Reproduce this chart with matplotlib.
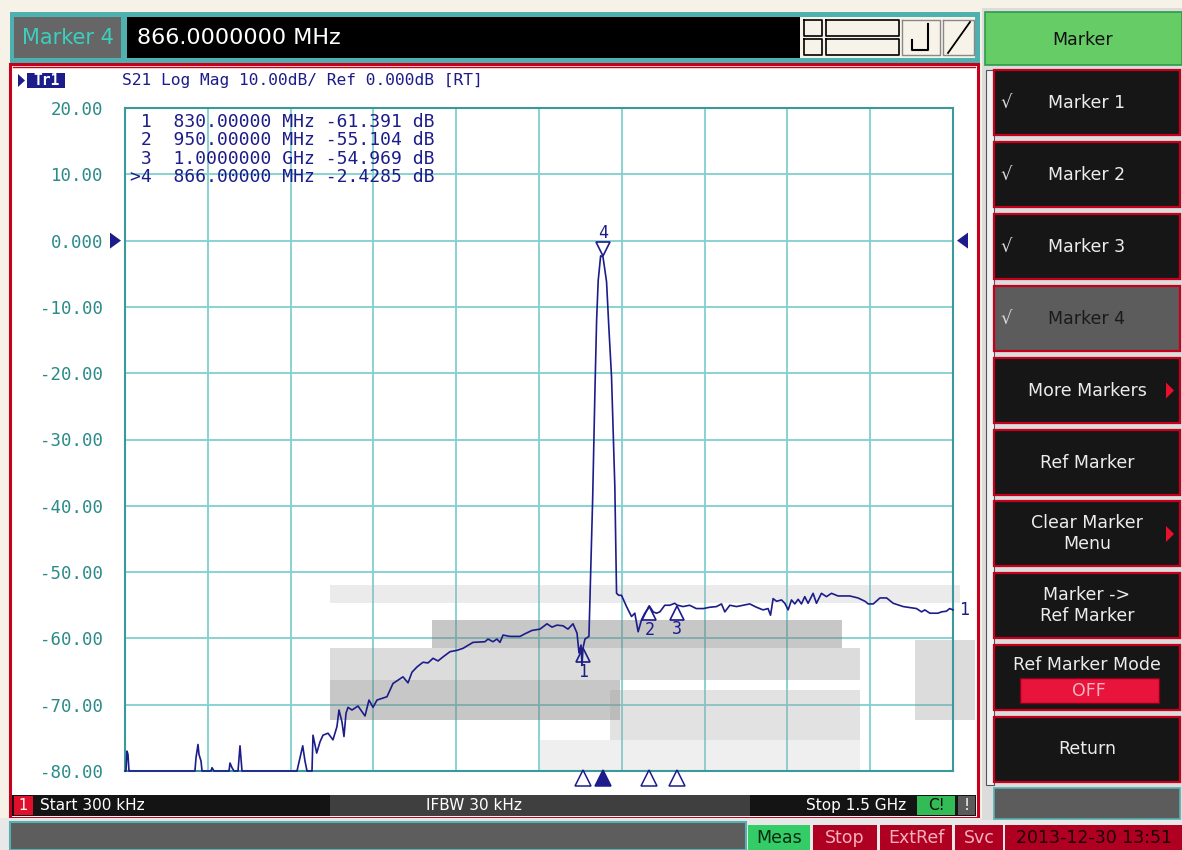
import numpy as np
import matplotlib
matplotlib.use("Agg")
import matplotlib.pyplot as plt
from matplotlib.patches import Rectangle, Polygon
from matplotlib import transforms

# ---------------- data ----------------
freq_mhz = [0.3, 2.1, 3.9, 5.7, 7.5, 127, 128.9, 132.5, 134.3, 138, 139.8, 156, 157.9, 161.5,
            188.7, 190.5, 194.1, 197.7, 205, 208.6, 212.2, 311.8, 317.3, 322.2, 326.3, 330, 339,
            340.8, 347.5, 353.5, 358.9, 368, 377, 384.2, 387.9, 393.3, 396.9, 400.6, 404.2, 411.4,
            422.3, 435, 442.2, 449.5, 456.7, 474.8, 480.3, 485.7, 494.8, 503.8, 512.9, 520.1,
            529.2, 540, 549.1, 558.2, 567.2, 576.2, 589, 601.6, 612.5, 630.6, 652.3, 657.8, 666.8,
            674, 679.5, 685, 697.6, 715.7, 724.8, 737.4, 751.9, 764.6, 773.7, 782.7, 793.6, 802.6,
            811.7, 819, 822.6, 826.2, 828, 830, 833.4, 838.8, 840.6, 843.7, 847.3, 851.5, 854.5,
            857.4, 861.8, 866, 872.5, 876.6, 881.5, 884.4, 887.5, 890.6, 894.7, 899.6, 908.7,
            917.7, 923.7, 929.7, 935.8, 941.8, 947.8, 950, 957, 963, 969, 978, 987, 996, 1000,
            1011, 1023, 1035, 1047.7, 1059.6, 1071.7, 1080.7, 1086.7, 1095.8, 1107.9, 1119.9,
            1131.9, 1144, 1156, 1165, 1169.5, 1174.2, 1180.4, 1189.4, 1195.4, 1201.4, 1207.5,
            1213.5, 1219.5, 1225.5, 1231.5, 1237.5, 1246.6, 1252.7, 1261.7, 1270.8, 1279.9,
            1291.8, 1313, 1328, 1340.6, 1346.5, 1355.6, 1367.7, 1379.8, 1391.6, 1409.8, 1434,
            1443, 1449, 1458, 1473, 1479, 1488, 1494, 1500]
s21_db = [-80, -80, -77, -77.5, -80, -80, -78, -76, -77.5, -78.5, -80, -80, -79.5, -80,
          -80, -78.8, -79.5, -80, -80, -76.2, -80, -80, -78, -76.2, -78.5, -80, -80,
          -74.6, -77.3, -75.6, -74.6, -74.3, -75.3, -73.3, -70.8, -72.6, -74.8, -71.3, -70.4, -70.8,
          -70.2, -71.7, -69.3, -70.4, -69.3, -68.8, -67.8, -66.8, -66.3, -65.8, -66.7, -65.1,
          -64.3, -63.6, -63.7, -63.0, -63.4, -62.8, -62.0, -61.8, -61.5, -60.6, -60.5, -60.1, -60.5,
          -60.1, -60.6, -59.5, -59.7, -59.7, -59.3, -58.8, -58.6, -57.8, -58.3, -58.0, -58.1, -58.6,
          -57.8, -59.2, -62.2, -61.0, -64.0, -61.4, -60.1, -59.8, -59.7, -50.4, -39.1, -22.5, -12.0,
          -6.0, -2.3, -2.43, -6.2, -13.0, -20.5, -28.3, -37.1, -53.2, -53.5, -53.5, -55.2,
          -56.7, -56.2, -59.0, -57.2, -56.2, -55.5, -55.1, -56.0, -56.2, -56.0, -55.0, -55.0, -54.7, -54.97,
          -55.2, -55.0, -55.5, -55.5, -55.3, -55.2, -54.8, -56.0, -55.0, -55.2, -55.0,
          -54.8, -55.3, -55.7, -55.5, -56.5, -54.0, -54.4, -54.2, -54.7, -55.7, -54.2,
          -54.8, -54.1, -54.8, -53.7, -54.7, -53.2, -54.7, -53.2, -53.7, -53.2,
          -53.6, -53.6, -53.9, -54.4, -54.8, -54.8, -53.9, -53.9, -54.7, -55.2, -55.5,
          -56.0, -55.7, -56.2, -56.2, -56.0, -55.9, -55.5, -55.7]

marker_ids = ["1", "2", "3", "4"]
marker_prefix = [" 1", " 2", " 3", ">4"]
marker_freq_mhz = [830.0, 950.0, 1000.0, 866.0]
marker_db = [-61.391, -55.104, -54.969, -2.4285]
marker_freq_text = ["830.00000 MHz", "950.00000 MHz", "1.0000000 GHz", "866.00000 MHz"]
marker_val_text = ["-61.391 dB", "-55.104 dB", "-54.969 dB", "-2.4285 dB"]

y_ticks = [20, 10, 0, -10, -20, -30, -40, -50, -60, -70, -80]
y_tick_labels = ["20.00", "10.00", "0.000", "-10.00", "-20.00", "-30.00", "-40.00",
                 "-50.00", "-60.00", "-70.00", "-80.00"]
start_mhz, stop_mhz = 0.3, 1500.0
ref_level_db = 0.0

title_text = "S21 Log Mag 10.00dB/ Ref 0.000dB [RT]"
entry_text = "866.0000000 MHz"
softkeys = ["Marker 1", "Marker 2", "Marker 3", "Marker 4", "More Markers", "Ref Marker",
            "Clear Marker\nMenu", "Marker ->\nRef Marker", "Ref Marker Mode", "Return"]
status_start = "Start 300 kHz"
status_ifbw = "IFBW 30 kHz"
status_stop = "Stop 1.5 GHz"
bottom_items = ["Meas", "Stop", "ExtRef", "Svc", "2013-12-30 13:51"]

# ---------------- figure ----------------
W, H = 1182, 850
fig = plt.figure(figsize=(W / 100, H / 100), dpi=100, facecolor="#f6f2e8")
ui = fig.add_axes([0, 0, 1, 1])
ui.set_xlim(0, W)
ui.set_ylim(H, 0)
ui.axis("off")
ui.set_zorder(0)

NAVY = "#1c1c8a"
TEAL_TXT = "#2b8a8a"
GRID = "#80d0d0"
MONO = "DejaVu Sans Mono"
SANS = "DejaVu Sans"


def rect(x, y, w, h, fc, ec="none", lw=0, z=1, alpha=1.0):
    ui.add_patch(Rectangle((x, y), w, h, facecolor=fc, edgecolor=ec, linewidth=lw,
                           zorder=z, alpha=alpha))


def txt(x, y, s, size, color, ha="center", va="center", family=SANS, weight="normal", z=5):
    ui.text(x, y, s, fontsize=size, color=color, ha=ha, va=va, family=family,
            fontweight=weight, zorder=z)


# header
rect(10, 12, 970, 51, "#4fb0b0")
rect(14, 17, 107, 41, "#666666")
txt(68, 38, "Marker 4", 15, "#3ad0c0")
rect(127, 17, 673, 41, "#000000")
txt(137, 38, entry_text, 16, "white", ha="left")
rect(800, 17, 175, 41, "#f7f3e8")
for (x0, x1) in [(804, 822), (826, 899)]:
    for (y0, y1) in [(20, 36), (39, 55)]:
        ui.plot([x0, x1, x1, x0, x0], [y0, y0, y1, y1, y0], color="black", lw=1.2, zorder=6)
ui.plot([902, 940, 940, 902, 902], [20, 20, 55, 55, 20], color="#888888", lw=1, zorder=6)
ui.plot([912, 912, 928, 928], [40, 50, 50, 24], color="black", lw=1.5, zorder=6)
ui.plot([943, 974, 974, 943, 943], [20, 20, 55, 55, 20], color="#888888", lw=1, zorder=6)
ui.plot([948, 970], [53, 22], color="black", lw=1.3, zorder=6)

# chart panel
rect(10, 64, 968, 754, "white", ec="#c4001c", lw=2.2)
ui.plot([13, 975], [67, 67], color="#c4001c", lw=1, zorder=2)
ui.add_patch(Polygon([[18, 74], [18, 87], [25, 80.5]], closed=True, facecolor=NAVY, zorder=5))
rect(27, 73, 38, 15, NAVY, z=4)
txt(46, 80.5, "Tr1", 10.5, "white", family=MONO, weight="bold")
txt(122, 80.5, title_text, 11.7, NAVY, ha="left", family=MONO)

# status bar (channel)
rect(12, 795, 964, 21, "#141414", z=2)
rect(330, 795, 420, 21, "#4a4a4a", z=2, alpha=0.8)
rect(14, 796, 19, 19, "#e0102c", z=3)
txt(23.5, 805.5, "1", 10.5, "white", z=4)
txt(40, 805.5, status_start, 11, "white", ha="left")
txt(474, 805.5, status_ifbw, 11, "white")
txt(856, 805.5, status_stop, 11, "white")
rect(917, 796, 38, 19, "#33bb55", z=3)
txt(936, 805.5, "C!", 11, "#0a0a0a", z=4)
rect(958, 796, 17, 19, "#5a5a5a", z=3)
txt(966.5, 805.5, "!", 11, "white", z=4)

# bottom bar
rect(0, 818, W, 32, "#e8e8e8")
rect(10, 822, 736, 28, "#5d5d5d", ec="#55b0b0", lw=1.5)
bx = [(748, 62, "#33cc66", "#062a10"), (813, 64, "#b00022", "#f3b0bc"),
      (880, 72, "#b00022", "#f3b0bc"), (955, 48, "#b00022", "#f3b0bc"),
      (1005, 177, "#b00022", "#1a0005")]
for (x0, w0, fc, tc), lab in zip(bx, bottom_items):
    rect(x0, 825, w0, 25, fc)
    txt(x0 + w0 / 2, 838, lab, 12.5, tc)

# right softkey panel
rect(982, 8, 200, 812, "#dcdcdc")
rect(985, 12, 197, 53, "#66cc66", ec="#2e9a4a", lw=1.2)
txt(1083, 40, "Marker", 12.5, "#111111")
rect(986, 70, 8, 715, "#f2f2f2", ec="#555555", lw=0.8)
btn_y = [70, 142, 214, 286, 358, 430, 501, 573, 645, 717]
btn_h = 65
for i, (y0, lab) in enumerate(zip(btn_y, softkeys)):
    sel = (i == 3)
    fc = "#5c5c5c" if sel else "#161616"
    rect(994, y0, 186, btn_h, fc, ec="#c4001c", lw=1.6)
    tc = "#1a1a1a" if sel else "#ececec"
    cy = y0 + btn_h / 2
    if i < 4:
        txt(1006, cy, "\u221a", 13, "#dddddd" if not sel else "#eeeeee", style_dummy := None) if False else None
        ui.text(1006, cy, "\u221a", fontsize=13, color="#d8d8d8", ha="center", va="center",
                family=SANS, style="italic", zorder=5)
        txt(1087, cy, lab, 12.5, tc)
    elif lab == "Ref Marker Mode":
        txt(1087, y0 + 20, lab, 12.5, tc)
        rect(1020, y0 + 33, 139, 25, "#e8143c", ec="#8a0018", lw=1)
        txt(1089, y0 + 46, "OFF", 12.5, "#f5b5c0")
    else:
        txt(1087, cy, lab, 12.5, tc, va="center")
    if lab in ("More Markers", "Clear Marker\nMenu"):
        ui.add_patch(Polygon([[1166, cy - 8 if i == 4 else y0 + 25],
                              [1166, cy + 8 if i == 4 else y0 + 41],
                              [1174, cy if i == 4 else y0 + 33]], closed=True,
                             facecolor="#e8102c", zorder=6))
rect(994, 788, 186, 31, "#5c5c5c", ec="#55b0b0", lw=1.2)

# ---------------- chart axes ----------------
L, R, T, B = 125, 953, 108, 771
ax = fig.add_axes([L / W, 1 - B / H, (R - L) / W, (B - T) / H])
ax.set_zorder(1)
ax.set_facecolor("white")
ax.set_xlim(start_mhz, stop_mhz)
ax.set_ylim(y_ticks[-1], y_ticks[0])
ax.set_xticks(np.linspace(start_mhz, stop_mhz, 11))
ax.set_xticklabels([])
ax.set_yticks(y_ticks)
ax.set_yticklabels(y_tick_labels, family=MONO, fontsize=12.5, color=TEAL_TXT)
ax.tick_params(axis="both", length=0, pad=15.8)
ax.grid(True, color=GRID, lw=1.3)
ax.set_axisbelow(True)
for s in ax.spines.values():
    s.set_color("#3a9a9a")
    s.set_linewidth(1.5)

# artifact gray overlays (screenshot ghosting)
overlays = [(330, 585, 630, 18, "#a8a8a8", 0.22), (432, 620, 410, 28, "#7a7a7a", 0.42),
            (330, 648, 530, 32, "#8c8c8c", 0.3), (330, 680, 290, 40, "#7a7a7a", 0.42),
            (610, 690, 250, 50, "#a0a0a0", 0.3), (540, 740, 320, 30, "#b0b0b0", 0.2),
            (915, 640, 60, 80, "#8c8c8c", 0.3)]
for (x0, y0, w0, h0, c, a) in overlays:
    ax.add_patch(Rectangle((x0, y0), w0, h0, transform=ui.transData, facecolor=c,
                           edgecolor="none", alpha=a, zorder=1.5, clip_on=False))

ax.plot(freq_mhz, np.clip(s21_db, -80, 20), color=NAVY, lw=1.2, zorder=3, clip_on=False)

# markers on trace
for mid, f, v in zip(marker_ids, marker_freq_mhz, marker_db):
    if mid == "4":
        tr = transforms.offset_copy(ax.transData, fig=fig, x=0, y=7.5, units="dots")
        ax.plot([f], [v], marker="v", ms=10, mfc="white", mec=NAVY, mew=1.2,
                transform=tr, zorder=4, clip_on=False)
        ax.annotate(mid, (f, v), xytext=(0, 17), textcoords="offset points", ha="center",
                    va="center", color=NAVY, fontsize=12, family=MONO, zorder=5)
    else:
        tr = transforms.offset_copy(ax.transData, fig=fig, x=0, y=-7.5, units="dots")
        ax.plot([f], [v], marker="^", ms=10, mfc="none", mec=NAVY, mew=1.2,
                transform=tr, zorder=4, clip_on=False)
        ax.annotate(mid, (f, v), xytext=(0, -17.5), textcoords="offset points", ha="center",
                    va="center", color=NAVY, fontsize=12, family=MONO, zorder=5)

# marker row below the grid
bt = transforms.blended_transform_factory(ax.transData, ax.transAxes)
for mid, f in zip(marker_ids, marker_freq_mhz):
    filled = (mid == "4")
    ax.plot([f], [-(778 - B) / (B - T)], marker="^", ms=12,
            mfc=NAVY if filled else "white", mec=NAVY, mew=1.1,
            transform=bt, clip_on=False, zorder=4)

# trace end label
ax.annotate("1", (freq_mhz[-1], s21_db[-1]), xytext=(8, 0), textcoords="offset points",
            ha="center", va="center", color=NAVY, fontsize=12, family=MONO)

# reference level arrows
ry = ax.transData.transform((start_mhz, ref_level_db))
ry_px = H - ry[1]
ui.add_patch(Polygon([[110, ry_px - 8], [110, ry_px + 8], [121, ry_px]], closed=True,
                     facecolor=NAVY, zorder=6))
ui.add_patch(Polygon([[968, ry_px - 8], [968, ry_px + 8], [957, ry_px]], closed=True,
                     facecolor=NAVY, zorder=6))

# marker readout table
for k, (p, ft, vt) in enumerate(zip(marker_prefix, marker_freq_text, marker_val_text)):
    ax.text(130, 122 + k * 18.4, f"{p}  {ft} {vt}", transform=ui.transData,
            fontsize=13, family=MONO, color=NAVY, ha="left", va="center", zorder=5)

fig.savefig("out.png", dpi=100, facecolor=fig.get_facecolor())
